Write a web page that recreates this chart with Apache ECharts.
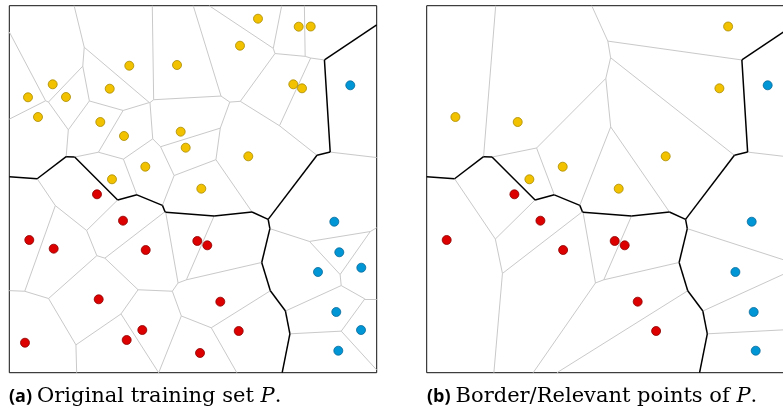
<!DOCTYPE html>
<html>
<head>
<meta charset="utf-8">
<script src="https://cdn.jsdelivr.net/npm/echarts@6/dist/echarts.min.js"></script>
<style>html,body{margin:0;padding:0;background:#fff;overflow:hidden}#c{width:800px;height:417px}</style>
</head>
<body>
<div id="c"></div>
<script>
// Data space: 0..100 on both axes
const yellowPoints = [
  [67.69,96.46],[78.77,94.28],[82.04,94.33],[62.79,89.10],[32.66,83.65],[45.65,83.84],
  [11.81,78.58],[5.09,75.04],[15.43,75.12],[27.33,77.38],[77.30,78.58],[79.67,77.49],
  [7.81,69.67],[24.77,68.31],[31.22,64.50],[46.65,65.67],[48.01,61.31],[65.05,58.96],
  [37.02,56.13],[27.95,52.70],[52.26,50.14]
];
const redPoints = [
  [23.87,48.61],[30.95,41.42],[5.44,36.16],[12.08,33.79],[37.13,33.43],[51.17,35.89],
  [53.89,34.71],[24.33,20.00],[57.43,19.35],[36.20,11.63],[31.95,8.91],[62.44,11.36],
  [4.27,8.17],[51.91,5.37]
];
const bluePoints = [
  [92.81,78.31],[88.46,41.14],[89.82,32.81],[84.02,27.44],[95.81,28.61],[89.00,16.54],
  [95.73,11.63],[89.55,5.99]
];
// indices of border / relevant points
const relevantYellow = [2,11,12,13,17,18,19,20];
const relevantRed = [0,1,2,4,5,6,8,11];
const relevantBlue = [0,1,3,5,7];
const captionA = ['(a)', 'Original training set ', 'P', '.'];
const captionB = ['(b)', 'Border/Relevant points of ', 'P', '.'];

const COLORS = {
  y: {c:'#f2c200', b:'#a88a00'},
  r: {c:'#dc0000', b:'#8c0000'},
  b: {c:'#0096d6', b:'#0a6a98'}
};

function buildSet(yIdx, rIdx, bIdx){
  const pts = [];
  yellowPoints.forEach((p,i)=>{ if(!yIdx || yIdx.includes(i)) pts.push({p:p, k:'y'}); });
  redPoints.forEach((p,i)=>{ if(!rIdx || rIdx.includes(i)) pts.push({p:p, k:'r'}); });
  bluePoints.forEach((p,i)=>{ if(!bIdx || bIdx.includes(i)) pts.push({p:p, k:'b'}); });
  return pts;
}

function voronoi(pts){
  const same = [], diff = [];
  for(let i=0;i<pts.length;i++){
    const pi = pts[i].p;
    let poly = [[0,0,-1],[100,0,-1],[100,100,-1],[0,100,-1]];
    for(let j=0;j<pts.length;j++){
      if(j===i) continue;
      const pj = pts[j].p;
      const nx = pj[0]-pi[0], ny = pj[1]-pi[1];
      const mx = (pj[0]+pi[0])/2, my = (pj[1]+pi[1])/2;
      const f = v => (v[0]-mx)*nx + (v[1]-my)*ny;
      const out = [];
      for(let k=0;k<poly.length;k++){
        const a = poly[k], b = poly[(k+1)%poly.length];
        const fa = f(a), fb = f(b);
        const ain = fa <= 0, bin = fb <= 0;
        if(ain && bin){ out.push(a); }
        else if(ain && !bin){
          out.push(a);
          const t = fa/(fa-fb);
          out.push([a[0]+t*(b[0]-a[0]), a[1]+t*(b[1]-a[1]), j]);
        } else if(!ain && bin){
          const t = fa/(fa-fb);
          out.push([a[0]+t*(b[0]-a[0]), a[1]+t*(b[1]-a[1]), a[2]]);
        }
      }
      poly = out;
      if(poly.length===0) break;
    }
    for(let k=0;k<poly.length;k++){
      const a = poly[k], b = poly[(k+1)%poly.length];
      const j = a[2];
      if(j > i){
        const seg = {coords:[[a[0],a[1]],[b[0],b[1]]]};
        if(pts[j].k === pts[i].k) same.push(seg); else diff.push(seg);
      }
    }
  }
  return {same, diff};
}

function panelSeries(pts, gi){
  const v = voronoi(pts);
  const s = [];
  s.push({type:'lines', coordinateSystem:'cartesian2d', xAxisIndex:gi, yAxisIndex:gi, polyline:false,
    silent:true, z:1, lineStyle:{color:'#c9c9c9', width:1, opacity:1}, data:v.same});
  s.push({type:'lines', coordinateSystem:'cartesian2d', xAxisIndex:gi, yAxisIndex:gi, polyline:false,
    silent:true, z:2, lineStyle:{color:'#000', width:1.5, opacity:1}, data:v.diff});
  ['y','r','b'].forEach(k=>{
    s.push({type:'scatter', xAxisIndex:gi, yAxisIndex:gi, symbol:'circle', symbolSize:9, z:3, silent:true,
      itemStyle:{color:COLORS[k].c, borderColor:COLORS[k].b, borderWidth:0.8, opacity:1},
      data: pts.filter(q=>q.k===k).map(q=>q.p)});
  });
  return s;
}

const full = buildSet(null,null,null);
const rel = buildSet(relevantYellow, relevantRed, relevantBlue);

const gridW = 367.4, gridH = 367;
const axisCommon = {min:0, max:100, show:false};
function captionRich(c){
  return `{b|${c[0]}} {n|${c[1]}}{i|${c[2]}}{n|${c[3]}}`;
}
const rich = {
  b:{fontFamily:'"Open Sans", sans-serif', fontWeight:'bold', fontSize:18, color:'#000'},
  n:{fontFamily:'"DejaVu Serif", serif', fontWeight:'normal', fontSize:21, color:'#000'},
  i:{fontFamily:'"DejaVu Serif", serif', fontWeight:'normal', fontStyle:'italic', fontSize:21, color:'#000'}
};

const chart = echarts.init(document.getElementById('c'), null, {renderer:'canvas'});
chart.setOption({
  animation:false,
  backgroundColor:'#fff',
  title:[
    {text:captionRich(captionA), left:4, top:381, textStyle:{fontWeight:'normal', rich:rich}},
    {text:captionRich(captionB), left:422, top:381, textStyle:{fontWeight:'normal', rich:rich}}
  ],
  grid:[
    {left:9.3, top:5.7, width:gridW, height:gridH, show:true, borderColor:'#111', borderWidth:1, backgroundColor:'transparent'},
    {left:426.7, top:5.7, width:gridW, height:gridH, show:true, borderColor:'#111', borderWidth:1, backgroundColor:'transparent'}
  ],
  xAxis:[Object.assign({type:'value', gridIndex:0}, axisCommon), Object.assign({type:'value', gridIndex:1}, axisCommon)],
  yAxis:[Object.assign({type:'value', gridIndex:0}, axisCommon), Object.assign({type:'value', gridIndex:1}, axisCommon)],
  series: panelSeries(full,0).concat(panelSeries(rel,1))
});
</script>
</body>
</html>
